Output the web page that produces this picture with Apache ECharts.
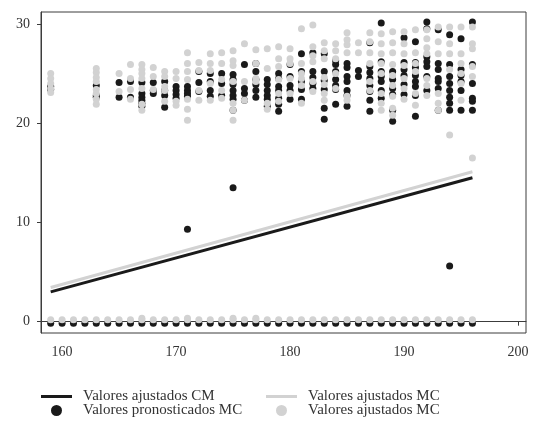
<!DOCTYPE html>
<html>
<head>
<meta charset="utf-8">
<script src="https://cdn.jsdelivr.net/npm/echarts@6/dist/echarts.min.js"></script>
<style>
  html, body { margin: 0; padding: 0; background: #fff; }
  #chart { width: 535px; height: 426px; }
</style>
</head>
<body>
<div id="chart"></div>
<script>
// ticks
const xTicks = [160, 170, 180, 190, 200];
const yTicks = [0, 10, 20, 30];

// rectas ajustadas (extremos)
const lineaCM = [[159, 3.0], [196, 14.5]];
const lineaMC = [[159, 3.45], [196, 15.1]];

// valores pronosticados MC (negro)
const pronosticados = [
  [159, 23.7], [159, 23.4],
  [163, 23.8], [163, 22.8], [163, 22.6],
  [165, 24.1], [165, 22.6],
  [166, 24.2], [166, 22.6],
  [167, 24.1], [167, 23.0], [167, 22.6], [167, 22.3], [167, 22.0], [167, 21.7],
  [168, 24.1], [168, 23.3], [168, 23.0],
  [169, 24.2], [169, 23.3], [169, 22.8], [169, 21.6],
  [170, 23.7], [170, 23.3], [170, 22.9], [170, 22.5],
  [171, 23.7], [171, 23.3], [171, 23.0], [171, 22.7], [171, 9.3],
  [172, 25.2], [172, 24.1], [172, 23.2],
  [173, 25.0], [173, 24.2], [173, 23.3], [173, 22.7],
  [174, 25.0], [174, 24.0], [174, 22.8],
  [175, 24.9], [175, 24.4], [175, 23.9], [175, 23.3], [175, 22.8], [175, 22.4], [175, 21.3], [175, 13.5],
  [176, 25.9], [176, 23.5], [176, 23.0], [176, 22.3],
  [177, 26.0], [177, 25.2], [177, 24.4], [177, 23.9], [177, 23.3], [177, 22.6],
  [178, 24.4], [178, 23.9], [178, 23.3], [178, 22.8], [178, 22.4], [178, 21.7],
  [179, 25.0], [179, 24.5], [179, 23.7], [179, 23.3], [179, 22.5], [179, 21.9], [179, 21.2],
  [180, 25.9], [180, 24.7], [180, 23.8], [180, 23.3], [180, 22.4],
  [181, 27.0], [181, 25.2], [181, 24.2], [181, 23.4], [181, 22.4],
  [182, 27.1], [182, 25.2], [182, 24.6], [182, 24.0], [182, 23.5],
  [183, 27.0], [183, 25.2], [183, 24.3], [183, 23.4], [183, 21.5], [183, 20.4],
  [184, 26.3], [184, 25.9], [184, 25.2], [184, 24.4], [184, 23.8], [184, 23.4], [184, 21.9],
  [185, 26.0], [185, 25.6], [185, 24.7], [185, 24.2], [185, 23.3], [185, 22.8], [185, 21.7],
  [186, 25.3], [186, 24.7],
  [187, 28.1], [187, 25.7], [187, 25.1], [187, 24.5], [187, 23.8], [187, 23.2], [187, 22.3], [187, 21.2],
  [188, 30.1], [188, 26.2], [188, 25.2], [188, 24.7], [188, 24.2], [188, 23.3], [188, 22.5],
  [189, 25.2], [189, 24.4], [189, 23.5], [189, 22.9], [189, 21.3], [189, 20.2],
  [190, 28.6], [190, 26.1], [190, 25.4], [190, 24.8], [190, 23.9], [190, 22.9],
  [191, 28.2], [191, 26.1], [191, 25.6], [191, 24.8], [191, 24.2], [191, 23.7], [191, 22.8], [191, 20.7],
  [192, 30.2], [192, 29.5], [192, 26.7], [192, 26.2], [192, 25.7], [192, 24.7], [192, 23.3],
  [193, 29.4], [193, 26.0], [193, 25.4], [193, 24.5], [193, 24.2], [193, 23.5], [193, 21.3],
  [194, 28.9], [194, 25.9], [194, 24.7], [194, 24.0], [194, 23.3], [194, 22.6], [194, 22.0], [194, 21.3], [194, 5.6],
  [195, 28.5], [195, 25.4], [195, 24.8], [195, 24.2], [195, 23.3], [195, 21.3],
  [196, 30.2], [196, 25.9], [196, 24.0], [196, 22.5], [196, 22.2], [196, 21.3]
];
const pronosticadosCero = [
  [159, -0.15], [160, -0.15], [161, -0.15], [162, -0.15], [163, -0.15], [164, -0.15],
  [165, -0.15], [166, -0.15], [167, -0.15], [168, -0.15], [169, -0.15], [170, -0.15],
  [171, -0.15], [172, -0.15], [173, -0.15], [174, -0.15], [175, -0.15], [176, -0.15],
  [177, -0.15], [178, -0.15], [179, -0.15], [180, -0.15], [181, -0.15], [182, -0.15],
  [183, -0.15], [184, -0.15], [185, -0.15], [186, -0.15], [187, -0.15], [188, -0.15],
  [189, -0.15], [190, -0.15], [191, -0.15], [192, -0.15], [193, -0.15], [194, -0.15],
  [195, -0.15], [196, -0.15]
];

// valores ajustados MC (gris)
const ajustados = [
  [159, 25.0], [159, 24.5], [159, 24.0], [159, 23.5], [159, 23.1],
  [163, 25.5], [163, 25.1], [163, 24.6], [163, 24.2], [163, 23.4], [163, 23.0], [163, 22.4], [163, 21.9],
  [165, 25.0], [165, 23.2],
  [166, 25.9], [166, 24.5], [166, 23.4], [166, 22.4],
  [167, 25.9], [167, 25.4], [167, 25.0], [167, 24.5], [167, 23.5], [167, 21.9], [167, 21.3],
  [168, 25.6], [168, 24.7], [168, 23.4],
  [169, 25.2], [169, 24.7], [169, 23.7], [169, 23.3], [169, 22.2],
  [170, 25.2], [170, 24.5], [170, 22.2], [170, 21.8],
  [171, 27.1], [171, 26.0], [171, 25.2], [171, 24.4], [171, 22.4], [171, 21.4], [171, 20.3],
  [172, 26.1], [172, 25.3], [172, 23.3], [172, 22.3],
  [173, 27.0], [173, 26.0], [173, 25.3], [173, 24.0], [173, 22.3],
  [174, 27.1], [174, 26.0], [174, 24.4], [174, 23.3], [174, 22.5],
  [175, 27.3], [175, 26.3], [175, 25.8], [175, 24.2], [175, 22.0], [175, 21.3], [175, 20.3],
  [176, 28.0], [176, 24.2], [176, 22.3],
  [177, 27.4], [177, 26.0], [177, 24.5], [177, 24.2],
  [178, 27.5], [178, 25.5], [178, 22.0], [178, 21.4],
  [179, 27.7], [179, 26.5], [179, 25.7], [179, 24.4], [179, 23.0], [179, 22.2],
  [180, 27.5], [180, 26.5], [180, 26.0], [180, 24.5], [180, 23.0],
  [181, 29.5], [181, 26.0], [181, 25.0], [181, 24.5], [181, 23.8], [181, 22.0],
  [182, 29.9], [182, 27.7], [182, 26.8], [182, 26.2], [182, 24.2], [182, 23.2],
  [183, 28.1], [183, 27.3], [183, 26.5], [183, 24.6], [183, 23.9], [183, 23.0], [183, 22.3],
  [184, 28.0], [184, 27.3], [184, 26.5], [184, 25.0], [184, 23.5],
  [185, 29.1], [185, 28.4], [185, 27.9], [185, 27.1], [185, 22.7], [185, 22.3],
  [186, 28.1], [186, 27.1],
  [187, 29.1], [187, 28.2], [187, 27.1], [187, 26.0], [187, 24.2], [187, 23.3],
  [188, 29.0], [188, 28.0], [188, 27.0], [188, 26.0], [188, 25.0], [188, 23.0], [188, 22.0], [188, 21.3],
  [189, 29.2], [189, 28.1], [189, 27.1], [189, 25.9], [189, 24.8], [189, 23.8], [189, 22.7], [189, 21.5], [189, 20.8],
  [190, 29.2], [190, 28.0], [190, 27.0], [190, 25.8], [190, 24.5], [190, 23.5], [190, 22.4],
  [191, 29.4], [191, 27.1], [191, 26.0], [191, 25.2], [191, 23.0], [191, 21.8],
  [192, 29.4], [192, 28.5], [192, 27.6], [192, 27.0], [192, 24.5], [192, 23.8], [192, 22.8],
  [193, 29.7], [193, 28.2], [193, 27.0], [193, 23.0], [193, 22.0], [193, 21.3],
  [194, 29.7], [194, 28.0], [194, 27.0], [194, 25.4], [194, 18.8],
  [195, 29.7], [195, 27.0], [195, 26.0], [195, 25.0], [195, 24.0], [195, 22.3],
  [196, 29.7], [196, 28.0], [196, 27.5], [196, 25.7], [196, 24.7], [196, 16.5]
];
const ajustadosCero = [
  [159, 0.2], [160, 0.2], [161, 0.2], [162, 0.2], [163, 0.2], [164, 0.2],
  [165, 0.2], [166, 0.2], [167, 0.2], [167, 0.35], [168, 0.2], [169, 0.2], [170, 0.2],
  [171, 0.2], [171, 0.35], [172, 0.2], [173, 0.2], [174, 0.2], [175, 0.2], [175, 0.35], [176, 0.2],
  [177, 0.2], [177, 0.35], [178, 0.2], [179, 0.2], [180, 0.2], [181, 0.2], [182, 0.2],
  [183, 0.2], [184, 0.2], [185, 0.2], [186, 0.2], [187, 0.2], [188, 0.2],
  [189, 0.2], [190, 0.2], [191, 0.2], [192, 0.2], [193, 0.2], [194, 0.2],
  [195, 0.2], [196, 0.2]
];

const negro = "#1a1a1a";
const gris = "#d2d2d2";
const fuente = "Liberation Serif";

const chart = echarts.init(document.getElementById("chart"), null, { renderer: "canvas" });

// leyenda: una por item para fijar posicion
function itemLeyenda(left, top, nombre, icon, color, w, h, pad) {
  return {
    left: left, top: top, orient: "horizontal", padding: 0,
    itemWidth: w, itemHeight: h, selectedMode: false,
    textStyle: { fontFamily: fuente, fontSize: 15, color: "#333", padding: [0, 0, 0, pad] },
    data: [{ name: nombre, icon: icon, itemStyle: { color: color, borderWidth: 0 } }]
  };
}

const option = {
  backgroundColor: "#fff",
  animation: false,
  grid: {
    left: 41, right: 9, top: 12, bottom: 93,
    show: true, borderColor: "#3c3c3c", borderWidth: 1, backgroundColor: "transparent"
  },
  legend: [
    itemLeyenda(41, 389, "Valores ajustados CM", "rect", negro, 31, 3, 6),
    itemLeyenda(266, 389, "Valores ajustados MC", "rect", gris, 31, 3, 6),
    itemLeyenda(51, 403, "Valores pronosticados MC", "circle", negro, 11, 11, 16),
    itemLeyenda(276, 403, "Valores ajustados MC", "circle", gris, 11, 11, 16)
  ],
  xAxis: {
    type: "value", min: 158.15, max: 200.7,
    axisLine: { show: true, lineStyle: { color: "#3c3c3c" } },
    axisTick: { show: true, length: 4, customValues: xTicks, lineStyle: { color: "#3c3c3c" } },
    axisLabel: { customValues: xTicks, fontFamily: fuente, fontSize: 14, color: "#333", margin: 12 },
    splitLine: { show: false }
  },
  yAxis: {
    type: "value", min: -1.14, max: 31.2,
    axisLine: { show: true, lineStyle: { color: "#3c3c3c" } },
    axisTick: { show: true, length: 4, customValues: yTicks, lineStyle: { color: "#3c3c3c" } },
    axisLabel: { customValues: yTicks, fontFamily: fuente, fontSize: 14, color: "#333", margin: 11 },
    splitLine: { show: false }
  },
  series: [
    {
      name: "Valores ajustados CM", type: "line", data: lineaCM,
      symbol: "none", lineStyle: { color: negro, width: 3 }, itemStyle: { color: negro }, z: 3
    },
    {
      name: "Valores ajustados MC", type: "line", data: lineaMC,
      symbol: "none", lineStyle: { color: gris, width: 3 }, itemStyle: { color: gris }, z: 2
    },
    {
      name: "Valores pronosticados MC", type: "scatter",
      data: pronosticados.concat(pronosticadosCero),
      symbolSize: 7, itemStyle: { color: negro, opacity: 1 }, z: 4
    },
    {
      name: "Valores ajustados MC", type: "scatter",
      data: ajustados.concat(ajustadosCero),
      symbolSize: 7, itemStyle: { color: gris, opacity: 1 }, z: 5
    }
  ]
};

chart.setOption(option);
</script>
</body>
</html>
